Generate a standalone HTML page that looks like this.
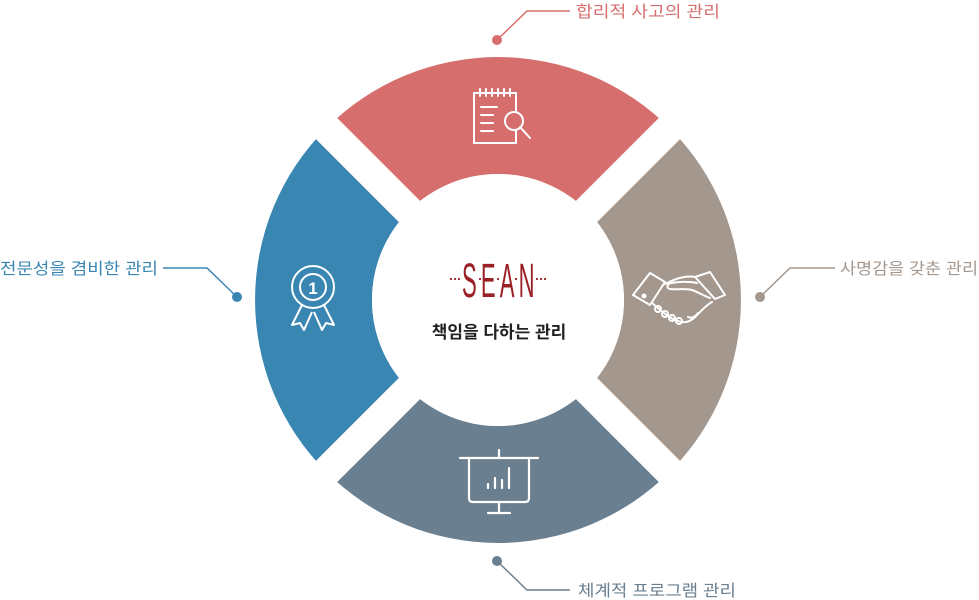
<!DOCTYPE html>
<html><head><meta charset="utf-8"><style>
html,body{margin:0;padding:0;background:#fff;width:979px;height:600px;overflow:hidden}
text{font-family:"Liberation Sans","Noto Sans CJK KR",sans-serif}
</style></head><body>
<svg width="979" height="600" viewBox="0 0 979 600" xmlns="http://www.w3.org/2000/svg">
<path d="M326.2,128.2 A243,243 0 0 1 669.8,128.2 L587.1,210.9 A126,126 0 0 0 408.9,210.9 Z" fill="#d76e6e"/>
<path d="M669.8,128.2 A243,243 0 0 1 669.8,471.8 L587.1,389.1 A126,126 0 0 0 587.1,210.9 Z" fill="#a4978d"/>
<path d="M669.8,471.8 A243,243 0 0 1 326.2,471.8 L408.9,389.1 A126,126 0 0 0 587.1,389.1 Z" fill="#6a7f90"/>
<path d="M326.2,471.8 A243,243 0 0 1 326.2,128.2 L408.9,210.9 A126,126 0 0 0 408.9,389.1 Z" fill="#3a86b3"/>
<line x1="278" y1="80" x2="718" y2="520" stroke="#fff" stroke-width="30"/>
<line x1="718" y1="80" x2="278" y2="520" stroke="#fff" stroke-width="30"/>
<circle cx="498" cy="300" r="126" fill="#fff"/>

<!-- center logo -->
<g transform="translate(462,297) scale(0.46,1)">
<text x="0" y="0" font-size="48" fill="#9b2025" letter-spacing="9">SEAN</text>
</g>
<g fill="#9b2025">
<circle cx="451" cy="279" r="1.1"/><circle cx="455" cy="279" r="1.1"/><circle cx="459" cy="279" r="1.1"/>
<circle cx="537" cy="279" r="1.1"/><circle cx="541" cy="279" r="1.1"/><circle cx="545" cy="279" r="1.1"/>
<circle cx="480" cy="279" r="1.1"/><circle cx="498" cy="279" r="1.1"/><circle cx="516" cy="279" r="1.1"/>
</g>
<text x="499" y="338" text-anchor="middle" font-size="17" font-weight="bold" fill="#222">책임을 다하는 관리</text>

<!-- top icon -->
<g stroke="#fff" stroke-width="2" fill="none" stroke-linecap="round">
<path d="M474,93 H516 V143 H474 Z"/>
<path d="M480,89v7M486,89v7M492,89v7M498,89v7M504,89v7M510,89v7"/>
<path d="M481,107h16M481,115h12M481,123h12M481,131h12"/>
<circle cx="514" cy="121" r="9" fill="#d76e6e"/>
<path d="M520,127l10,11"/>
</g>
<!-- right icon handshake -->
<g stroke="#fff" stroke-width="2" fill="none" stroke-linejoin="round" stroke-linecap="round">
<path d="M633,295 L650,273 L665,282 L650,305 Z"/>
<path d="M695,277 L710,272 L725,295 L715,299 Z"/>
<path d="M665,284 c10,-5 20,-9 30,-7"/>
<path d="M697,283 c-8,-2 -20,-1 -26,0 c-4,1 -5,5 -1,6 c8,1 16,-1 22,1 c6,2 12,6 18,8"/>
<path d="M652,303 c5,4 10,9 16,13 c6,4 12,7 18,6 c6,-1 10,-6 14,-10 c4,-4 8,-8 12,-10"/>
<path d="M688,317 c4,2 8,-1 10,-4"/>
<circle cx="644" cy="296" r="1.5" fill="#fff"/>
<circle cx="658" cy="309" r="3"/><circle cx="665" cy="314" r="3"/><circle cx="672" cy="318" r="3"/><circle cx="679" cy="321" r="3"/>
</g>
<!-- bottom icon -->
<g stroke="#fff" stroke-width="2.2" fill="none" stroke-linecap="round">
<path d="M460,458h78M499,450v8M469,458v40q0,4 4,4h52q4,0 4,-4v-40M499,502v11M488,513h22"/>
<path d="M488,488v-4M495,488v-10M502,488v-8M509,488v-20"/>
</g>
<!-- left icon ribbon -->
<g stroke="#fff" stroke-width="2" fill="none" stroke-linejoin="round">
<circle cx="313" cy="287" r="21"/>
<circle cx="313" cy="287" r="13"/>
<path d="M302,305 l-10,20 l8,-2 l4,7 l8,-18"/>
<path d="M324,305 l10,20 l-8,-2 l-4,7 l-8,-18"/>
</g>
<text x="313" y="294" text-anchor="middle" font-size="17" font-weight="bold" fill="#fff">1</text>

<!-- labels -->
<g stroke-width="1.5" fill="none">
<path d="M497,40 L527,11 H570" stroke="#d76e6e"/>
<path d="M760,297 L790,268 H835" stroke="#a4978d"/>
<path d="M497,561 L527,590 H570" stroke="#6a7f90"/>
<path d="M237,297 L207,268 H163" stroke="#3a86b3"/>
</g>
<circle cx="497" cy="40" r="5" fill="#d76e6e"/>
<circle cx="760" cy="297" r="5" fill="#a4978d"/>
<circle cx="497" cy="561" r="5" fill="#6a7f90"/>
<circle cx="237" cy="297" r="5" fill="#3a86b3"/>
<text x="576" y="17" font-size="16" fill="#d76e6e" textLength="144" lengthAdjust="spacingAndGlyphs">합리적 사고의 관리</text>
<text x="840" y="274" font-size="16" fill="#a4978d" textLength="138" lengthAdjust="spacingAndGlyphs">사명감을 갖춘 관리</text>
<text x="578" y="596" font-size="16" fill="#6a7f90" textLength="158" lengthAdjust="spacingAndGlyphs">체계적 프로그램 관리</text>
<text x="0" y="274" font-size="16" fill="#3a86b3" textLength="158" lengthAdjust="spacingAndGlyphs">전문성을 겸비한 관리</text>
</svg>
</body></html>
